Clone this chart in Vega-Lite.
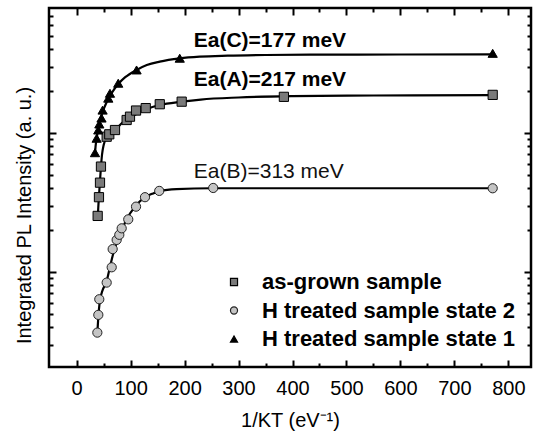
{
  "$schema": "https://vega.github.io/schema/vega-lite/v6.json",
  "width": 482,
  "height": 359,
  "autosize": {"type": "none"},
  "padding": {"left": 49, "top": 8, "right": 4, "bottom": 76},
  "background": "white",
  "config": {
    "font": "Liberation Sans",
    "view": {"stroke": "black", "strokeWidth": 2.5},
    "axis": {
      "domain": false, "grid": false,
      "tickColor": "black", "tickWidth": 2,
      "labelFont": "Liberation Sans", "labelFontSize": 20, "labelColor": "black",
      "titleFont": "Liberation Sans", "titleFontSize": 20, "titleFontWeight": "normal", "titleColor": "black"
    },
    "legend": {
      "orient": "none", "legendX": 174, "legendY": 263,
      "labelFont": "Liberation Sans", "labelFontSize": 22, "labelFontWeight": "bold", "labelColor": "black", "labelLimit": 0,
      "symbolSize": 50, "symbolStrokeWidth": 1.2,
      "labelOffset": 17, "rowPadding": 6.5, "padding": 0
    }
  },
  "datasets": {
    "fits": [
      {"series": "H treated sample state 1", "x": 33.9, "y": 7.0},
      {"series": "H treated sample state 1", "x": 35, "y": 8.0},
      {"series": "H treated sample state 1", "x": 37, "y": 9.1},
      {"series": "H treated sample state 1", "x": 40, "y": 10.8},
      {"series": "H treated sample state 1", "x": 43, "y": 12.2},
      {"series": "H treated sample state 1", "x": 47, "y": 13.8},
      {"series": "H treated sample state 1", "x": 52, "y": 15.5},
      {"series": "H treated sample state 1", "x": 58, "y": 17.4},
      {"series": "H treated sample state 1", "x": 65, "y": 19.4},
      {"series": "H treated sample state 1", "x": 77, "y": 22.5},
      {"series": "H treated sample state 1", "x": 90, "y": 25.2},
      {"series": "H treated sample state 1", "x": 111, "y": 28.4},
      {"series": "H treated sample state 1", "x": 130, "y": 30.8},
      {"series": "H treated sample state 1", "x": 154, "y": 32.6},
      {"series": "H treated sample state 1", "x": 191, "y": 34.4},
      {"series": "H treated sample state 1", "x": 228, "y": 35.4},
      {"series": "H treated sample state 1", "x": 280, "y": 36.0},
      {"series": "H treated sample state 1", "x": 350, "y": 36.4},
      {"series": "H treated sample state 1", "x": 450, "y": 36.6},
      {"series": "H treated sample state 1", "x": 600, "y": 36.7},
      {"series": "H treated sample state 1", "x": 771, "y": 36.8},
      {"series": "as-grown sample", "x": 38.9, "y": 2.37},
      {"series": "as-grown sample", "x": 40, "y": 2.9},
      {"series": "as-grown sample", "x": 41.5, "y": 3.6},
      {"series": "as-grown sample", "x": 43, "y": 4.4},
      {"series": "as-grown sample", "x": 45, "y": 5.7},
      {"series": "as-grown sample", "x": 47, "y": 7.0},
      {"series": "as-grown sample", "x": 50, "y": 8.2},
      {"series": "as-grown sample", "x": 55, "y": 9.2},
      {"series": "as-grown sample", "x": 62, "y": 9.9},
      {"series": "as-grown sample", "x": 74, "y": 10.8},
      {"series": "as-grown sample", "x": 85, "y": 11.9},
      {"series": "as-grown sample", "x": 99, "y": 12.9},
      {"series": "as-grown sample", "x": 115, "y": 14.0},
      {"series": "as-grown sample", "x": 130, "y": 14.9},
      {"series": "as-grown sample", "x": 154, "y": 15.9},
      {"series": "as-grown sample", "x": 195, "y": 16.8},
      {"series": "as-grown sample", "x": 230, "y": 17.4},
      {"series": "as-grown sample", "x": 300, "y": 18.0},
      {"series": "as-grown sample", "x": 400, "y": 18.4},
      {"series": "as-grown sample", "x": 550, "y": 18.6},
      {"series": "as-grown sample", "x": 771, "y": 18.7},
      {"series": "H treated sample state 2", "x": 38.3, "y": 0.366},
      {"series": "H treated sample state 2", "x": 40.2, "y": 0.48},
      {"series": "H treated sample state 2", "x": 42.5, "y": 0.6},
      {"series": "H treated sample state 2", "x": 47, "y": 0.72},
      {"series": "H treated sample state 2", "x": 55.6, "y": 0.86},
      {"series": "H treated sample state 2", "x": 62, "y": 1.1},
      {"series": "H treated sample state 2", "x": 67.9, "y": 1.36},
      {"series": "H treated sample state 2", "x": 74, "y": 1.62},
      {"series": "H treated sample state 2", "x": 80.2, "y": 1.85},
      {"series": "H treated sample state 2", "x": 92.1, "y": 2.37},
      {"series": "H treated sample state 2", "x": 108, "y": 2.95},
      {"series": "H treated sample state 2", "x": 123.5, "y": 3.39},
      {"series": "H treated sample state 2", "x": 140, "y": 3.65},
      {"series": "H treated sample state 2", "x": 154.4, "y": 3.83},
      {"series": "H treated sample state 2", "x": 185, "y": 3.95},
      {"series": "H treated sample state 2", "x": 250, "y": 4.0},
      {"series": "H treated sample state 2", "x": 771, "y": 4.0}
    ],
    "points": [
      {"series": "as-grown sample", "x": 38.9, "y": 2.53},
      {"series": "as-grown sample", "x": 41.3, "y": 3.45},
      {"series": "as-grown sample", "x": 43.2, "y": 4.39},
      {"series": "as-grown sample", "x": 45, "y": 5.73},
      {"series": "as-grown sample", "x": 55.6, "y": 9.4},
      {"series": "as-grown sample", "x": 60.4, "y": 9.78},
      {"series": "as-grown sample", "x": 71, "y": 10.5},
      {"series": "as-grown sample", "x": 92.6, "y": 12.4},
      {"series": "as-grown sample", "x": 98.8, "y": 13.1},
      {"series": "as-grown sample", "x": 110, "y": 14.5},
      {"series": "as-grown sample", "x": 128, "y": 15.1},
      {"series": "as-grown sample", "x": 154, "y": 16.1},
      {"series": "as-grown sample", "x": 194.6, "y": 16.8},
      {"series": "as-grown sample", "x": 384, "y": 18.2},
      {"series": "as-grown sample", "x": 771, "y": 18.8},
      {"series": "H treated sample state 2", "x": 38.3, "y": 0.366},
      {"series": "H treated sample state 2", "x": 40.1, "y": 0.491},
      {"series": "H treated sample state 2", "x": 41.9, "y": 0.636},
      {"series": "H treated sample state 2", "x": 55.6, "y": 0.838},
      {"series": "H treated sample state 2", "x": 64.9, "y": 1.08},
      {"series": "H treated sample state 2", "x": 66.7, "y": 1.46},
      {"series": "H treated sample state 2", "x": 74.1, "y": 1.70},
      {"series": "H treated sample state 2", "x": 79, "y": 1.85},
      {"series": "H treated sample state 2", "x": 83.4, "y": 2.06},
      {"series": "H treated sample state 2", "x": 95.6, "y": 2.39},
      {"series": "H treated sample state 2", "x": 110, "y": 2.95},
      {"series": "H treated sample state 2", "x": 126.6, "y": 3.45},
      {"series": "H treated sample state 2", "x": 153, "y": 3.83},
      {"series": "H treated sample state 2", "x": 253, "y": 4.02},
      {"series": "H treated sample state 2", "x": 771, "y": 4.0},
      {"series": "H treated sample state 1", "x": 33.9, "y": 7.21},
      {"series": "H treated sample state 1", "x": 37, "y": 9.16},
      {"series": "H treated sample state 1", "x": 40, "y": 10.5},
      {"series": "H treated sample state 1", "x": 42, "y": 11.6},
      {"series": "H treated sample state 1", "x": 46, "y": 12.8},
      {"series": "H treated sample state 1", "x": 48, "y": 14.6},
      {"series": "H treated sample state 1", "x": 58.6, "y": 17.8},
      {"series": "H treated sample state 1", "x": 61.7, "y": 19.3},
      {"series": "H treated sample state 1", "x": 77, "y": 22.8},
      {"series": "H treated sample state 1", "x": 111, "y": 28.4},
      {"series": "H treated sample state 1", "x": 191, "y": 34.5},
      {"series": "H treated sample state 1", "x": 771, "y": 37.4}
    ],
    "boldlabels": [
      {"label": "Ea(C)=177 meV", "x": 217, "y": 41.8},
      {"label": "Ea(A)=217 meV", "x": 217, "y": 21.8}
    ],
    "plainlabels": [
      {"label": "Ea(B)=313 meV", "x": 217, "y": 4.75}
    ]
  },
  "layer": [
    {
      "data": {"name": "fits"},
      "mark": {"type": "line", "color": "black", "strokeWidth": 2.2, "interpolate": "monotone"},
      "encoding": {
        "x": {"field": "x", "type": "quantitative",
              "scale": {"domain": [-51.3, 842], "nice": false, "zero": false},
              "axis": {"orient": "bottom", "values": [0,100,200,300,400,500,600,700,800], "tickSize": -7, "labelPadding": 18, "title": "1/KT (eV\u207b\u00b9)", "titlePadding": 12}},
        "y": {"field": "y", "type": "quantitative",
              "scale": {"type": "log", "domain": [0.207, 79.3], "nice": false},
              "axis": {"orient": "left", "values": [1, 10], "tickSize": -7, "labels": false, "title": "Integrated PL Intensity (a. u.)", "titlePadding": 14, "titleY": 207}},
        "detail": {"field": "series"}
      }
    },
    {
      "data": {"name": "points"},
      "mark": {"type": "point", "filled": true, "strokeWidth": 1, "size": 85, "opacity": 1},
      "encoding": {
        "x": {"field": "x", "type": "quantitative",
              "axis": {"orient": "bottom", "values": [50,150,250,350,450,550,650,750], "tickSize": -4, "labels": false, "title": null}},
        "y": {"field": "y", "type": "quantitative",
              "axis": {"orient": "left", "values": [0.3,0.4,0.5,0.6,0.7,0.8,0.9,2,3,4,5,6,7,8,9,20,30,40,50,60,70], "tickSize": -4, "labels": false, "title": null}},
        "stroke": {"field": "series", "type": "nominal",
                   "scale": {"domain": ["as-grown sample", "H treated sample state 2", "H treated sample state 1"], "range": ["#000000", "#222222", "#000000"]},
                   "legend": {"title": null}},
        "shape": {"field": "series", "type": "nominal",
                  "scale": {"domain": ["as-grown sample", "H treated sample state 2", "H treated sample state 1"], "range": ["square", "circle", "triangle-up"]},
                  "legend": {"title": null}},
        "fill": {"field": "series", "type": "nominal",
                 "scale": {"domain": ["as-grown sample", "H treated sample state 2", "H treated sample state 1"], "range": ["#7a7a7a", "#c4c4c4", "#000000"]},
                 "legend": {"title": null}}
      }
    },
    {
      "data": {"name": "boldlabels"},
      "mark": {"type": "text", "align": "left", "baseline": "alphabetic", "fontSize": 21, "fontWeight": "bold", "font": "Liberation Sans", "color": "black"},
      "encoding": {
        "x": {"field": "x", "type": "quantitative",
              "axis": {"orient": "top", "values": [0,100,200,300,400,500,600,700,800], "tickSize": -7, "labels": false, "title": null}},
        "y": {"field": "y", "type": "quantitative",
              "axis": {"orient": "right", "values": [1, 10], "tickSize": -7, "labels": false, "title": null}},
        "text": {"field": "label"}
      }
    },
    {
      "data": {"name": "plainlabels"},
      "mark": {"type": "text", "align": "left", "baseline": "alphabetic", "fontSize": 21, "fontWeight": "normal", "font": "Liberation Sans", "color": "#111111"},
      "encoding": {
        "x": {"field": "x", "type": "quantitative",
              "axis": {"orient": "top", "values": [50,150,250,350,450,550,650,750], "tickSize": -4, "labels": false, "title": null}},
        "y": {"field": "y", "type": "quantitative",
              "axis": {"orient": "right", "values": [0.3,0.4,0.5,0.6,0.7,0.8,0.9,2,3,4,5,6,7,8,9,20,30,40,50,60,70], "tickSize": -4, "labels": false, "title": null}},
        "text": {"field": "label"}
      }
    }
  ],
  "resolve": {"axis": {"x": "independent", "y": "independent"}}
}
